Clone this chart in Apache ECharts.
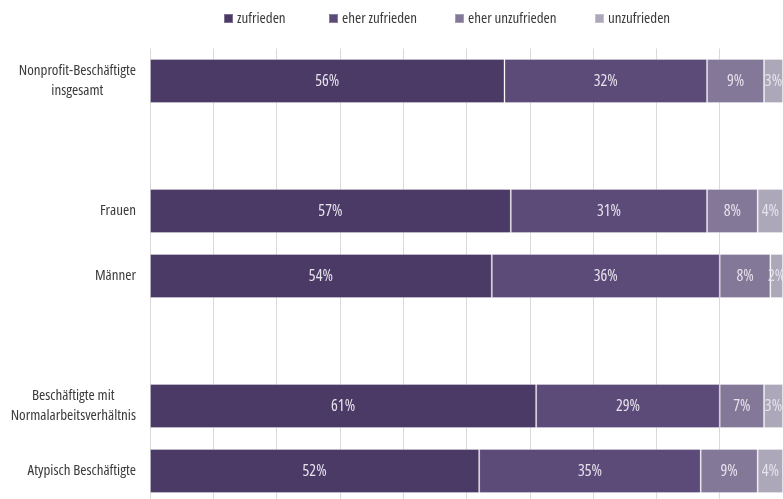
<!DOCTYPE html>
<html>
<head>
<meta charset="utf-8">
<script src="https://cdn.jsdelivr.net/npm/echarts@6/dist/echarts.min.js"></script>
<style>
  html, body { margin: 0; padding: 0; background: #ffffff; }
  #chart { width: 783px; height: 499px; }
</style>
</head>
<body>
<div id="chart"></div>
<script>
// Zufriedenheit der Beschäftigten, Anteile in Prozent
const categories = [
  'Nonprofit-Beschäftigte\ninsgesamt',
  '',
  'Frauen',
  'Männer',
  ' ',
  'Beschäftigte mit\nNormalarbeitsverhältnis',
  'Atypisch Beschäftigte'
];
const seriesNames = ['zufrieden', 'eher zufrieden', 'eher unzufrieden', 'unzufrieden'];
const zufrieden       = [56, null, 57, 54, null, 61, 52];
const eherZufrieden   = [32, null, 31, 36, null, 29, 35];
const eherUnzufrieden = [9,  null, 8,  8,  null, 7,  9];
const unzufrieden     = [3,  null, 4,  2,  null, 3,  4];

const colors = ['#4b3a66', '#5c4b79', '#847899', '#aca8b9'];
// narrow (condensed) face of Open Sans
const FONT = '"Open Sans", sans-serif';
const STRETCH = 'condensed';
const values = [zufrieden, eherZufrieden, eherUnzufrieden, unzufrieden];

const chart = echarts.init(document.getElementById('chart'), null, { renderer: 'canvas' });

const legendLefts = [223, 328, 454, 594];

const option = {
  backgroundColor: '#ffffff',
  animation: false,
  color: colors,
  textStyle: { fontFamily: FONT, fontStyle: STRETCH },
  legend: seriesNames.map((name, i) => ({
    data: [name],
    left: legendLefts[i],
    top: 11,
    padding: 0,
    itemWidth: 9,
    itemHeight: 9,
    itemGap: 0,
    icon: 'rect',
    textStyle: { fontFamily: FONT, fontStyle: STRETCH, fontSize: 15, color: '#3a3a3a', padding: [0, 0, 0, -1] }
  })),
  grid: { left: 150, right: 0, top: 48.5, height: 455, containLabel: false, outerBoundsMode: 'none' },
  xAxis: {
    type: 'value',
    min: 0,
    max: 100,
    interval: 10,
    axisLabel: { show: false },
    axisLine: { show: false },
    axisTick: { show: false },
    splitLine: { show: true, lineStyle: { color: '#d9d9d9', width: 1 } }
  },
  yAxis: {
    type: 'category',
    inverse: true,
    data: categories,
    axisLine: { show: false },
    axisTick: { show: false },
    axisLabel: {
      margin: 14,
      fontFamily: FONT,
      fontStyle: STRETCH,
      fontSize: 15,
      color: '#3a3a3a',
      lineHeight: 20,
      formatter: (v) => v.split('\n').map(l => '{c|' + l + '}').join('\n'),
      rich: {
        c: { align: 'center', fontFamily: FONT, fontStyle: STRETCH, fontSize: 15, color: '#3a3a3a', lineHeight: 20 }
      }
    }
  },
  series: seriesNames.map((name, i) => ({
    name: name,
    type: 'bar',
    stack: 'total',
    barWidth: 44,
    data: values[i],
    itemStyle: { color: colors[i], borderColor: 'rgba(255,255,255,0.28)', borderWidth: 1 },
    label: {
      show: true,
      position: 'inside',
      formatter: (p) => p.value == null ? '' : p.value + '%',
      fontFamily: FONT,
      fontStyle: STRETCH,
      fontSize: 16,
      color: '#e6e2ec'
    }
  }))
};

chart.setOption(option);
</script>
</body>
</html>
